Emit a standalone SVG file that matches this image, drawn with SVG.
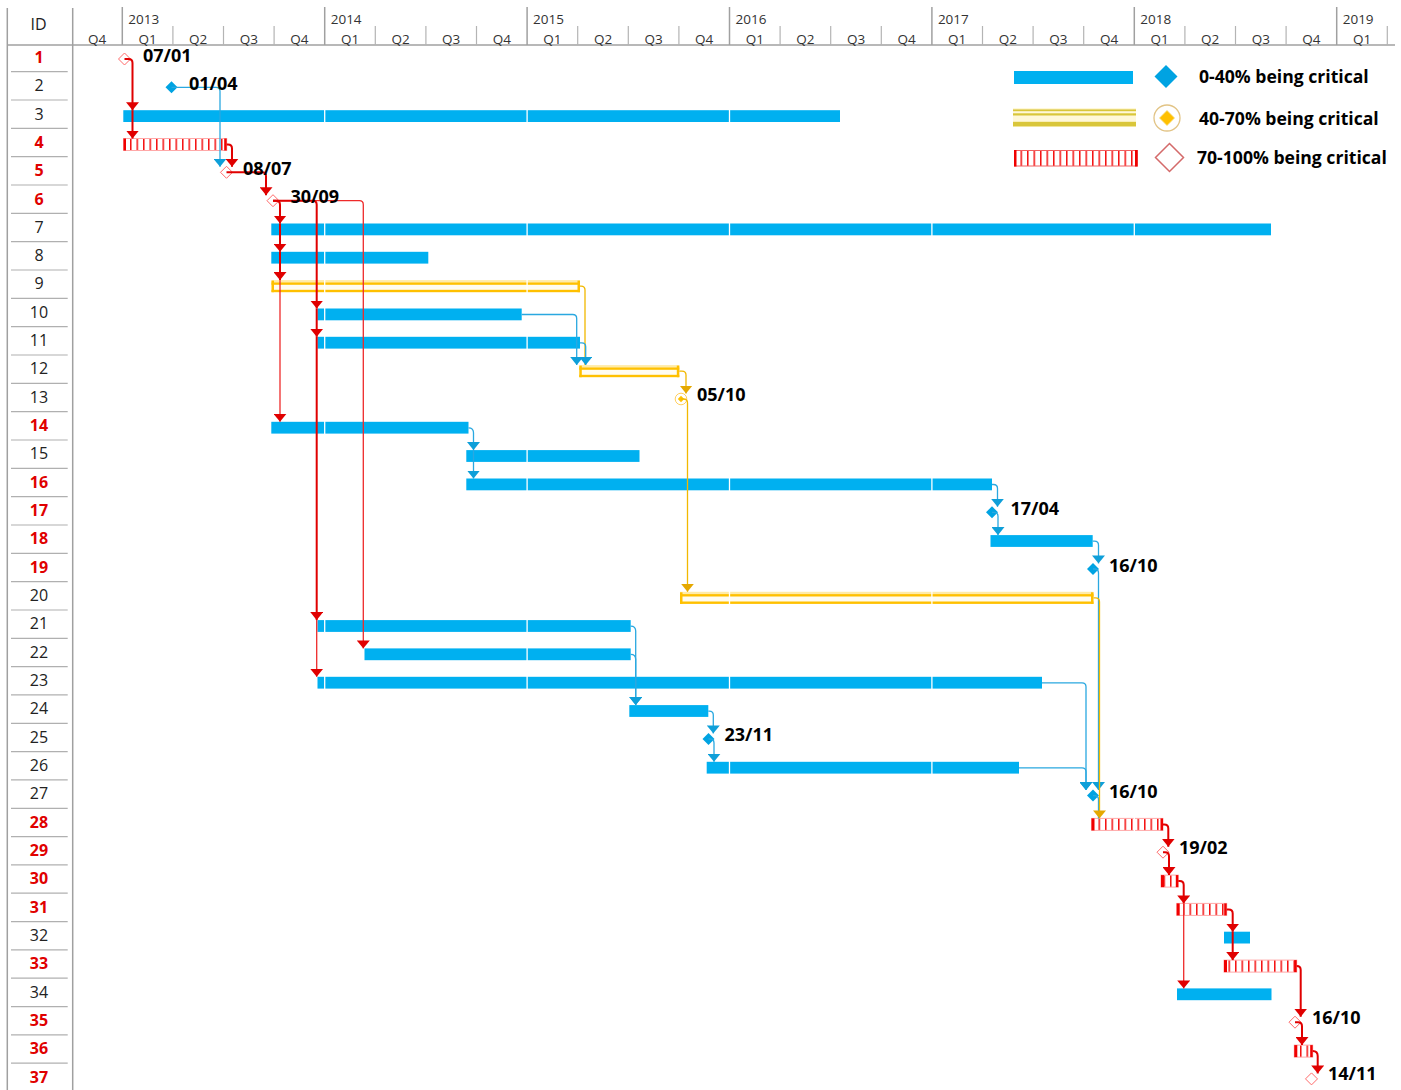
<svg xmlns="http://www.w3.org/2000/svg" width="1401" height="1090" viewBox="0 0 1401 1090">
<defs>
<style>
.id{font-family:"Open Sans","Noto Sans",sans-serif;font-size:16px;text-anchor:middle;fill:#222}
.idc{font-weight:bold;fill:#E00000}
.hd{font-family:"Open Sans","Noto Sans",sans-serif;font-size:13.5px;fill:#333}
.hq{text-anchor:middle}
.ms{font-family:"Open Sans","Noto Sans",sans-serif;font-size:18px;font-weight:bold;fill:#000}
.lg{font-family:"Open Sans","Noto Sans",sans-serif;font-size:17.6px;font-weight:bold;fill:#000}
.gl{stroke:#A0A0A0;stroke-width:1.5}
.gq{stroke:#B4B4B4;stroke-width:1.2}
.sep{stroke:#B0B0B0;stroke-width:1.2}
.bb{fill:#00B0F0}
.yp{fill:#FFEBA8}
.yy{fill:#FFC000}
.yw{fill:#FFFCF0}
.rh{fill:url(#hatch);stroke:#FFA8A8;stroke-width:1}
.rs{fill:#F00000}
.cr{stroke:#E00000;stroke-width:2;fill:none}
.crt{stroke:#EE2A2A;stroke-width:1.3;fill:none}
.cb{stroke:#2AA8E0;stroke-width:1.3;fill:none}
.cy{stroke:#F2B800;stroke-width:1.3;fill:none}
.mr{fill:#fff;stroke:#FF6A6A;stroke-width:1}
.mb{fill:#00A3E2}
</style>
<pattern id="hatch" patternUnits="userSpaceOnUse" width="6.5" height="40">
<rect width="6.5" height="40" fill="#fff"/>
<rect x="0" width="1.5" height="40" fill="#F41010"/>
</pattern>
<marker id="aR" viewBox="0 0 8 13" refX="8" refY="6.5" markerWidth="8" markerHeight="13" orient="auto" markerUnits="userSpaceOnUse"><path d="M0,0 L8,6.5 L0,13 z" fill="#E00000"/></marker>
<marker id="aB" viewBox="0 0 8 13" refX="8" refY="6.5" markerWidth="8" markerHeight="13" orient="auto" markerUnits="userSpaceOnUse"><path d="M0,0 L8,6.5 L0,13 z" fill="#0E9FD9"/></marker>
<marker id="aY" viewBox="0 0 8 13" refX="8" refY="6.5" markerWidth="8" markerHeight="13" orient="auto" markerUnits="userSpaceOnUse"><path d="M0,0 L8,6.5 L0,13 z" fill="#E5A800"/></marker>
</defs>
<rect width="1401" height="1090" fill="#fff"/>

<g id="grid">
<line class="gl" x1="7.3" y1="8" x2="7.3" y2="1090"/>
<line class="gl" x1="72.7" y1="8" x2="72.7" y2="1090"/>
<line class="gl" x1="7" y1="45" x2="1395" y2="45"/>
<g class="gl">
<line x1="122.3" y1="7" x2="122.3" y2="45"/><line x1="324.7" y1="7" x2="324.7" y2="45"/><line x1="527.1" y1="7" x2="527.1" y2="45"/><line x1="729.5" y1="7" x2="729.5" y2="45"/><line x1="931.9" y1="7" x2="931.9" y2="45"/><line x1="1134.3" y1="7" x2="1134.3" y2="45"/><line x1="1336.7" y1="7" x2="1336.7" y2="45"/>
</g>
<g class="gq">
<line x1="172.9" y1="26" x2="172.9" y2="45"/><line x1="223.5" y1="26" x2="223.5" y2="45"/><line x1="274.1" y1="26" x2="274.1" y2="45"/><line x1="375.3" y1="26" x2="375.3" y2="45"/><line x1="425.9" y1="26" x2="425.9" y2="45"/><line x1="476.5" y1="26" x2="476.5" y2="45"/><line x1="577.7" y1="26" x2="577.7" y2="45"/><line x1="628.3" y1="26" x2="628.3" y2="45"/><line x1="678.9" y1="26" x2="678.9" y2="45"/><line x1="780.1" y1="26" x2="780.1" y2="45"/><line x1="830.7" y1="26" x2="830.7" y2="45"/><line x1="881.3" y1="26" x2="881.3" y2="45"/><line x1="982.5" y1="26" x2="982.5" y2="45"/><line x1="1033.1" y1="26" x2="1033.1" y2="45"/><line x1="1083.7" y1="26" x2="1083.7" y2="45"/><line x1="1184.9" y1="26" x2="1184.9" y2="45"/><line x1="1235.5" y1="26" x2="1235.5" y2="45"/><line x1="1286.1" y1="26" x2="1286.1" y2="45"/><line x1="1387.3" y1="26" x2="1387.3" y2="45"/>
</g>
<text class="id" x="38.5" y="29.5">ID</text>
<g class="hd">
<text x="128.3" y="24">2013</text><text x="330.7" y="24">2014</text><text x="533.1" y="24">2015</text><text x="735.5" y="24">2016</text><text x="937.9" y="24">2017</text><text x="1140.3" y="24">2018</text><text x="1342.7" y="24">2019</text>
</g>
<g class="hd hq">
<text x="97" y="44">Q4</text>
<text x="147.6" y="44">Q1</text><text x="198.2" y="44">Q2</text><text x="248.8" y="44">Q3</text><text x="299.4" y="44">Q4</text>
<text x="350" y="44">Q1</text><text x="400.6" y="44">Q2</text><text x="451.2" y="44">Q3</text><text x="501.8" y="44">Q4</text>
<text x="552.4" y="44">Q1</text><text x="603" y="44">Q2</text><text x="653.6" y="44">Q3</text><text x="704.2" y="44">Q4</text>
<text x="754.8" y="44">Q1</text><text x="805.4" y="44">Q2</text><text x="856" y="44">Q3</text><text x="906.6" y="44">Q4</text>
<text x="957.2" y="44">Q1</text><text x="1007.8" y="44">Q2</text><text x="1058.4" y="44">Q3</text><text x="1109" y="44">Q4</text>
<text x="1159.6" y="44">Q1</text><text x="1210.2" y="44">Q2</text><text x="1260.8" y="44">Q3</text><text x="1311.4" y="44">Q4</text>
<text x="1362" y="44">Q1</text>
</g>
</g>

<g id="id-column">
<g class="sep">
<line x1="11" y1="71.7" x2="67.7" y2="71.7"/><line x1="11" y1="100" x2="67.7" y2="100"/><line x1="11" y1="128.4" x2="67.7" y2="128.4"/><line x1="11" y1="156.7" x2="67.7" y2="156.7"/><line x1="11" y1="185" x2="67.7" y2="185"/><line x1="11" y1="213.4" x2="67.7" y2="213.4"/><line x1="11" y1="241.7" x2="67.7" y2="241.7"/><line x1="11" y1="270" x2="67.7" y2="270"/><line x1="11" y1="298.3" x2="67.7" y2="298.3"/><line x1="11" y1="326.7" x2="67.7" y2="326.7"/><line x1="11" y1="355" x2="67.7" y2="355"/><line x1="11" y1="383.3" x2="67.7" y2="383.3"/><line x1="11" y1="411.7" x2="67.7" y2="411.7"/><line x1="11" y1="440" x2="67.7" y2="440"/><line x1="11" y1="468.3" x2="67.7" y2="468.3"/><line x1="11" y1="496.6" x2="67.7" y2="496.6"/><line x1="11" y1="525" x2="67.7" y2="525"/><line x1="11" y1="553.3" x2="67.7" y2="553.3"/><line x1="11" y1="581.6" x2="67.7" y2="581.6"/><line x1="11" y1="610" x2="67.7" y2="610"/><line x1="11" y1="638.3" x2="67.7" y2="638.3"/><line x1="11" y1="666.6" x2="67.7" y2="666.6"/><line x1="11" y1="694.9" x2="67.7" y2="694.9"/><line x1="11" y1="723.3" x2="67.7" y2="723.3"/><line x1="11" y1="751.6" x2="67.7" y2="751.6"/><line x1="11" y1="779.9" x2="67.7" y2="779.9"/><line x1="11" y1="808.3" x2="67.7" y2="808.3"/><line x1="11" y1="836.6" x2="67.7" y2="836.6"/><line x1="11" y1="864.9" x2="67.7" y2="864.9"/><line x1="11" y1="893.2" x2="67.7" y2="893.2"/><line x1="11" y1="921.6" x2="67.7" y2="921.6"/><line x1="11" y1="949.9" x2="67.7" y2="949.9"/><line x1="11" y1="978.2" x2="67.7" y2="978.2"/><line x1="11" y1="1006.6" x2="67.7" y2="1006.6"/><line x1="11" y1="1034.9" x2="67.7" y2="1034.9"/><line x1="11" y1="1063.2" x2="67.7" y2="1063.2"/>
</g>
<text class="id idc" x="39" y="62.8">1</text>
<text class="id" x="39" y="91.1">2</text>
<text class="id" x="39" y="119.5">3</text>
<text class="id idc" x="39" y="147.8">4</text>
<text class="id idc" x="39" y="176.1">5</text>
<text class="id idc" x="39" y="204.5">6</text>
<text class="id" x="39" y="232.8">7</text>
<text class="id" x="39" y="261.1">8</text>
<text class="id" x="39" y="289.4">9</text>
<text class="id" x="39" y="317.8">10</text>
<text class="id" x="39" y="346.1">11</text>
<text class="id" x="39" y="374.4">12</text>
<text class="id" x="39" y="402.8">13</text>
<text class="id idc" x="39" y="431.1">14</text>
<text class="id" x="39" y="459.4">15</text>
<text class="id idc" x="39" y="487.8">16</text>
<text class="id idc" x="39" y="516.1">17</text>
<text class="id idc" x="39" y="544.4">18</text>
<text class="id idc" x="39" y="572.7">19</text>
<text class="id" x="39" y="601.1">20</text>
<text class="id" x="39" y="629.4">21</text>
<text class="id" x="39" y="657.7">22</text>
<text class="id" x="39" y="686.1">23</text>
<text class="id" x="39" y="714.4">24</text>
<text class="id" x="39" y="742.7">25</text>
<text class="id" x="39" y="771.1">26</text>
<text class="id" x="39" y="799.4">27</text>
<text class="id idc" x="39" y="827.7">28</text>
<text class="id idc" x="39" y="856">29</text>
<text class="id idc" x="39" y="884.4">30</text>
<text class="id idc" x="39" y="912.7">31</text>
<text class="id" x="39" y="941">32</text>
<text class="id idc" x="39" y="969.4">33</text>
<text class="id" x="39" y="997.7">34</text>
<text class="id idc" x="39" y="1026">35</text>
<text class="id idc" x="39" y="1054.4">36</text>
<text class="id idc" x="39" y="1082.7">37</text>
</g>

<g id="bars">
<g id="task-3"><rect class="bb" x="123.3" y="110.2" width="716.7" height="11.8"/></g>
<g id="task-4"><rect class="rh" x="123.5" y="138.5" width="103.2" height="12"/><rect class="rs" x="123.5" y="138.5" width="2.5" height="12"/><rect class="rs" x="224.2" y="138.5" width="2.5" height="12"/></g>
<g id="task-7"><rect class="bb" x="271.3" y="223.5" width="999.7" height="11.8"/></g>
<g id="task-8"><rect class="bb" x="271.3" y="251.8" width="157" height="11.8"/></g>
<g id="task-9"><rect class="yw" x="271.5" y="280.1" width="308.5" height="12"/><rect class="yp" x="271.5" y="280.1" width="308.5" height="2.2"/><rect class="yy" x="271.5" y="282.4" width="308.5" height="2.4"/><rect class="yy" x="271.5" y="289.8" width="308.5" height="2.4"/><rect class="yy" x="271.5" y="280.6" width="2.5" height="11.6"/><rect class="yy" x="577.5" y="280.6" width="2.5" height="11.6"/></g>
<g id="task-10"><rect class="bb" x="317.5" y="308.5" width="204.2" height="11.8"/></g>
<g id="task-11"><rect class="bb" x="317.5" y="336.8" width="262.5" height="11.8"/></g>
<g id="task-12"><rect class="yw" x="579.3" y="365.1" width="100" height="12"/><rect class="yp" x="579.3" y="365.1" width="100" height="2.2"/><rect class="yy" x="579.3" y="367.4" width="100" height="2.4"/><rect class="yy" x="579.3" y="374.8" width="100" height="2.4"/><rect class="yy" x="579.3" y="365.6" width="2.5" height="11.6"/><rect class="yy" x="676.8" y="365.6" width="2.5" height="11.6"/></g>
<g id="task-14"><rect class="bb" x="271.3" y="421.8" width="197.2" height="11.8"/></g>
<g id="task-15"><rect class="bb" x="466.3" y="450.1" width="173.2" height="11.8"/></g>
<g id="task-16"><rect class="bb" x="466.3" y="478.5" width="525.7" height="11.8"/></g>
<g id="task-18"><rect class="bb" x="990.5" y="535.1" width="102.2" height="11.8"/></g>
<g id="task-20"><rect class="yw" x="680" y="591.8" width="413.5" height="12"/><rect class="yp" x="680" y="591.8" width="413.5" height="2.2"/><rect class="yy" x="680" y="594.1" width="413.5" height="2.4"/><rect class="yy" x="680" y="601.5" width="413.5" height="2.4"/><rect class="yy" x="680" y="592.3" width="2.5" height="11.6"/><rect class="yy" x="1091" y="592.3" width="2.5" height="11.6"/></g>
<g id="task-21"><rect class="bb" x="317.5" y="620.1" width="313.2" height="11.8"/></g>
<g id="task-22"><rect class="bb" x="364.5" y="648.4" width="266.2" height="11.8"/></g>
<g id="task-23"><rect class="bb" x="317.5" y="676.8" width="724.5" height="11.8"/></g>
<g id="task-24"><rect class="bb" x="629.3" y="705.1" width="79" height="11.8"/></g>
<g id="task-26"><rect class="bb" x="706.7" y="761.8" width="312.3" height="11.8"/></g>
<g id="task-28"><rect class="rh" x="1091.5" y="818.4" width="71.5" height="12"/><rect class="rs" x="1091.5" y="818.4" width="3" height="12"/><rect class="rs" x="1160.5" y="818.4" width="2.5" height="12"/></g>
<g id="task-30"><rect class="rh" x="1161" y="875.1" width="17.3" height="12"/><rect class="rs" x="1161" y="875.1" width="3" height="12"/><rect class="rs" x="1175.8" y="875.1" width="2.5" height="12"/></g>
<g id="task-31"><rect class="rh" x="1176.7" y="903.4" width="50" height="12"/><rect class="rs" x="1176.7" y="903.4" width="3" height="12"/><rect class="rs" x="1224.2" y="903.4" width="2.5" height="12"/></g>
<g id="task-32"><rect class="bb" x="1224" y="931.7" width="26" height="11.8"/></g>
<g id="task-33"><rect class="rh" x="1224" y="960.1" width="72.7" height="12"/><rect class="rs" x="1224" y="960.1" width="3" height="12"/><rect class="rs" x="1294.2" y="960.1" width="2.5" height="12"/></g>
<g id="task-34"><rect class="bb" x="1177" y="988.4" width="94.5" height="11.8"/></g>
<g id="task-36"><rect class="rh" x="1294.3" y="1045.1" width="18.4" height="12"/><rect class="rs" x="1294.3" y="1045.1" width="3" height="12"/><rect class="rs" x="1310.2" y="1045.1" width="2.5" height="12"/></g>
</g>

<g id="year-gaps" stroke="#fff" stroke-width="1.3">
<line x1="324.7" y1="100" x2="324.7" y2="1090"/><line x1="527.1" y1="100" x2="527.1" y2="1090"/><line x1="729.5" y1="100" x2="729.5" y2="1090"/><line x1="931.9" y1="100" x2="931.9" y2="1090"/><line x1="1134.3" y1="180" x2="1134.3" y2="1090"/>
</g>

<g id="milestones">
<g id="task-1"><path class="mr" d="M124.5,53 L130.5,59 L124.5,65 L118.5,59 z"/></g>
<g id="task-2"><path class="mb" d="M171.5,81.3 L177.5,87.3 L171.5,93.3 L165.5,87.3 z"/></g>
<g id="task-5"><path class="mr" d="M226.5,166.3 L232.5,172.3 L226.5,178.3 L220.5,172.3 z"/></g>
<g id="task-6"><path class="mr" d="M273,194.7 L279,200.7 L273,206.7 L267,200.7 z"/></g>
<g id="task-13"><circle cx="681" cy="399" r="5.8" fill="#fff" stroke="#FFD060" stroke-width="1"/><path d="M681,395.8 L684.2,399 L681,402.2 L677.8,399 z" fill="#FFC000"/></g>
<g id="task-17"><path class="mb" d="M992,506.3 L998,512.3 L992,518.3 L986,512.3 z"/></g>
<g id="task-19"><path class="mb" d="M1093,563 L1099,569 L1093,575 L1087,569 z"/></g>
<g id="task-25"><path class="mb" d="M708.5,733 L714.5,739 L708.5,745 L702.5,739 z"/></g>
<g id="task-27"><path class="mb" d="M1093,789.6 L1099,795.6 L1093,801.6 L1087,795.6 z"/></g>
<g id="task-29"><path class="mr" d="M1163,846.2 L1169,852.2 L1163,858.2 L1157,852.2 z"/></g>
<g id="task-35"><path class="mr" d="M1295,1016.2 L1301,1022.2 L1295,1028.2 L1289,1022.2 z"/></g>
<g id="task-37"><path class="mr" d="M1311.5,1072.9 L1317.5,1078.9 L1311.5,1084.9 L1305.5,1078.9 z"/></g>
</g>

<g id="connectors">
<path class="cy" d="M580,286.1 H581 Q585,286.1 585,290.1 V365.1"/>
<path class="cy" d="M679.3,371.1 H682 Q686,371.1 686,375.1 V393.5" marker-end="url(#aY)"/>
<path class="cy" d="M681,399 H683.5 Q687.5,399 687.5,403 V591.8" marker-end="url(#aY)"/>

<path class="cb" d="M171.5,87.3 H216 Q220,87.3 220,91.3 V166.8" marker-end="url(#aB)"/>
<path class="cb" d="M521.7,314.5 H572.7 Q576.7,314.5 576.7,318.5 V365.1" marker-end="url(#aB)"/>
<path class="cb" d="M580,342.8 H581.7 Q585.7,342.8 585.7,346.8 V365.1" marker-end="url(#aB)"/>
<path class="cb" d="M468.5,427.8 Q473.5,427.8 473.5,432.8 V450.1" marker-end="url(#aB)"/>
<path class="cb" d="M473.5,450.1 V478.5" marker-end="url(#aB)"/>
<path class="cb" d="M992,484.5 H993.5 Q997.5,484.5 997.5,488.5 V506.8" marker-end="url(#aB)"/>
<path class="cb" d="M992,512.3 H994 Q998,512.3 998,516.3 V535.1" marker-end="url(#aB)"/>
<path class="cb" d="M1092.7,541.1 H1094.5 Q1098.5,541.1 1098.5,545.1 V563.4" marker-end="url(#aB)"/>
<path class="cb" d="M1093,569 H1094.5 Q1098.5,569 1098.5,573 V790.1" marker-end="url(#aB)"/>
<path class="cb" d="M1042,682.8 H1082 Q1086,682.8 1086,686.8 V790.1" marker-end="url(#aB)"/>
<path class="cb" d="M1019,767.8 H1082 Q1086,767.8 1086,771.8 V790.1" marker-end="url(#aB)"/>
<path class="cb" d="M630.7,626.1 Q635.7,626.1 635.7,631.1 V705.1" marker-end="url(#aB)"/>
<path class="cb" d="M630.7,654.4 Q635.7,654.4 635.7,659.4 V705.1" marker-end="url(#aB)"/>
<path class="cb" d="M708.3,711.1 H709.3 Q713.3,711.1 713.3,715.1 V733.4" marker-end="url(#aB)"/>
<path class="cb" d="M708.5,739 H710 Q714,739 714,743 V761.8" marker-end="url(#aB)"/>
<path class="cb" d="M1093,795.6 H1094.5 Q1098.5,795.6 1098.5,799.6 V818.4"/>

<path class="cy" d="M1093.5,597.8 H1095.5 Q1099.5,597.8 1099.5,601.8 V818.4" marker-end="url(#aY)"/>

<path class="cr" d="M124.5,59 H128.5 Q132.5,59 132.5,63 V110.2" marker-end="url(#aR)"/>
<path class="cr" d="M132.5,110.2 V138.5" marker-end="url(#aR)"/>
<path class="cr" d="M226.7,144.5 H228 Q232,144.5 232,148.5 V166.8" marker-end="url(#aR)"/>
<path class="cr" d="M226.5,172.3 H262 Q266,172.3 266,176.3 V195.2" marker-end="url(#aR)"/>
<path class="crt" d="M273,200.7 H359.3 Q363.3,200.7 363.3,204.7 V648.4" marker-end="url(#aR)"/>
<path class="cr" d="M273,200.7 H276 Q280,200.7 280,204.7 V223.5" marker-end="url(#aR)"/>
<path class="cr" d="M280,223.5 V251.8" marker-end="url(#aR)"/>
<path class="cr" d="M280,251.8 V280.1" marker-end="url(#aR)"/>
<path class="crt" d="M280,280.1 V421.8" marker-end="url(#aR)"/>
<path class="cr" d="M273,200.7 H312.7 Q316.7,200.7 316.7,204.7 V308.5" marker-end="url(#aR)"/>
<path class="cr" d="M316.7,308.5 V336.8" marker-end="url(#aR)"/>
<path class="cr" d="M316.7,336.8 V620.1" marker-end="url(#aR)"/>
<path class="crt" d="M316.7,620.1 V676.8" marker-end="url(#aR)"/>
<path class="cr" d="M1163,824.4 H1164.3 Q1168.3,824.4 1168.3,828.4 V846.7" marker-end="url(#aR)"/>
<path class="cr" d="M1163,852.2 H1165 Q1169,852.2 1169,856.2 V875.1" marker-end="url(#aR)"/>
<path class="cr" d="M1178.3,881.1 H1179.7 Q1183.7,881.1 1183.7,885.1 V903.4" marker-end="url(#aR)"/>
<path class="crt" d="M1183.7,903.4 V988.4" marker-end="url(#aR)"/>
<path class="cr" d="M1226.7,909.4 H1228.7 Q1232.7,909.4 1232.7,913.4 V931.7" marker-end="url(#aR)"/>
<path class="cr" d="M1232.7,931.7 V960.1" marker-end="url(#aR)"/>
<path class="cr" d="M1296.7,966.1 Q1300.7,966.1 1300.7,970.1 V1016.7" marker-end="url(#aR)"/>
<path class="cr" d="M1295,1022.2 H1298 Q1302,1022.2 1302,1026.2 V1045.1" marker-end="url(#aR)"/>
<path class="cr" d="M1312.7,1051.1 Q1317.7,1051.1 1317.7,1056.1 V1073.4" marker-end="url(#aR)"/>
</g>

<g id="milestone-labels" class="ms">
<text x="143" y="62">07/01</text>
<text x="189" y="89.5">01/04</text>
<text x="243" y="174.5">08/07</text>
<text x="290.5" y="203">30/09</text>
<text x="697" y="400.7">05/10</text>
<text x="1010.5" y="515">17/04</text>
<text x="1109" y="572">16/10</text>
<text x="724.5" y="740.5">23/11</text>
<text x="1109" y="797.5">16/10</text>
<text x="1179" y="854">19/02</text>
<text x="1312" y="1023.5">16/10</text>
<text x="1328" y="1080">14/11</text>
</g>

<g id="legend">
<g id="legend-low">
<rect class="bb" x="1014" y="71" width="119" height="13"/>
<path d="M1166,65 L1177.5,76.5 L1166,88 L1154.5,76.5 z" fill="#00A3E2"/>
<text class="lg" x="1199" y="82.7">0-40% being critical</text>
</g>
<g id="legend-mid">
<rect x="1013" y="108" width="123" height="19" fill="#FFF8D8"/>
<rect x="1013" y="109.4" width="123" height="1.8" fill="#D9C63A"/>
<rect x="1013" y="113.3" width="123" height="2.2" fill="#D9C63A"/>
<rect x="1013" y="121.8" width="123" height="4.6" fill="#D9C63A"/>
<circle cx="1167" cy="118" r="13" fill="#fff" stroke="#E2C486" stroke-width="1.3"/>
<path d="M1167,110.5 L1174.5,118 L1167,125.5 L1159.5,118 z" fill="#FFC000" stroke="#F6D870" stroke-width="0.8"/>
<text class="lg" x="1199" y="125">40-70% being critical</text>
</g>
<g id="legend-high">
<rect x="1014.5" y="150.5" width="123" height="15.5" fill="url(#hatch)" stroke="#F06060" stroke-width="1"/>
<rect x="1014" y="150" width="2.5" height="16.5" fill="#F00000"/>
<rect x="1135" y="150" width="2.5" height="16.5" fill="#F00000"/>
<path d="M1169.5,143.5 L1183.5,157.5 L1169.5,171.5 L1155.5,157.5 z" fill="#fff" stroke="#D46A6A" stroke-width="1.5"/>
<text class="lg" x="1197" y="164.3">70-100% being critical</text>
</g>
</g>
</svg>
